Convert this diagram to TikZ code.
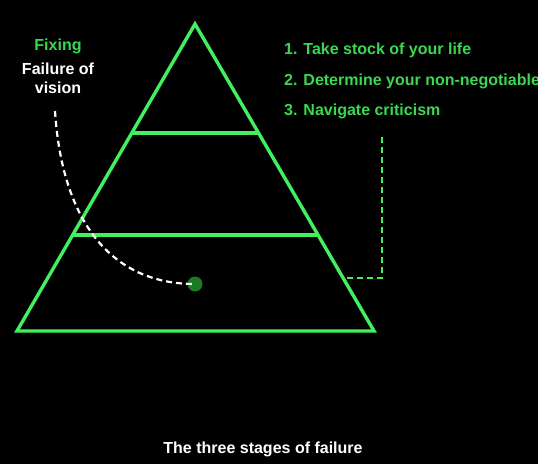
\documentclass[tikz,border=0pt]{standalone}
\usepackage{fontspec}
\setmainfont{Liberation Sans}
\usepackage{tikz}

\definecolor{neon}{HTML}{41F05C}
\definecolor{neontext}{HTML}{3AD850}
\definecolor{dotgreen}{HTML}{1E7A22}

\tikzset{
  level/.style={draw=neon, line width=3.4pt, line join=miter},
  label/.style={font=\bfseries\fontsize{16}{19}\selectfont, inner sep=0pt},
  pathline/.style={draw=white, line width=2.2pt, dash pattern=on 6pt off 4pt},
  bracket/.style={draw=neon, line width=2.2pt, dash pattern=on 6pt off 4pt}
}

\begin{document}
\begin{tikzpicture}[x=1pt, y=-1pt]
  % Background
  \fill[black] (0,0) rectangle (538,464);
  \useasboundingbox (0,0) rectangle (538,464);

  % Pyramid corners
  \coordinate (apex) at (195,24);
  \coordinate (bl) at (17,331);
  \coordinate (br) at (374,331);

  % Pyramid levels
  \coordinate (l1) at (132,133);
  \coordinate (r1) at (258,133);
  \coordinate (l2) at (73,235);
  \coordinate (r2) at (317,235);

  \draw[level] (apex) -- (br) -- (bl) -- cycle;
  \draw[level] (l1) -- (r1);
  \draw[level] (l2) -- (r2);

  % Left labels
  \node[label, text=neontext] (fixing) at (58,46) {Fixing};
  \node[label, text=white] (fail1) at (58,69) {Failure of};
  \node[label, text=white] (fail2) at (58,88) {vision};

  % Dot and dashed path
  \coordinate (pstart) at (55,111);
  \node[circle, fill=dotgreen, minimum size=15pt, inner sep=0pt] (dot) at (195,284) {};
  \draw[pathline] (pstart) .. controls (62,220) and (110,284) .. (dot.center);

  % Right list
  \node[label, text=neontext, anchor=west] (step1) at (284,50) {1. Take stock of your life};
  \node[label, text=neontext, anchor=west] (step2) at (284,81) {2. Determine your non-negotiables};
  \node[label, text=neontext, anchor=west] (step3) at (284,111) {3. Navigate criticism};

  % Bracket
  \coordinate (btop) at (382,137);
  \coordinate (bcorner) at (382,278);
  \coordinate (bend) at (345,278);
  \draw[bracket] (btop) -- (bcorner) -- (bend);

  % Caption
  \node[label, text=white] (caption) at (263,449) {The three stages of failure};
\end{tikzpicture}
\end{document}
